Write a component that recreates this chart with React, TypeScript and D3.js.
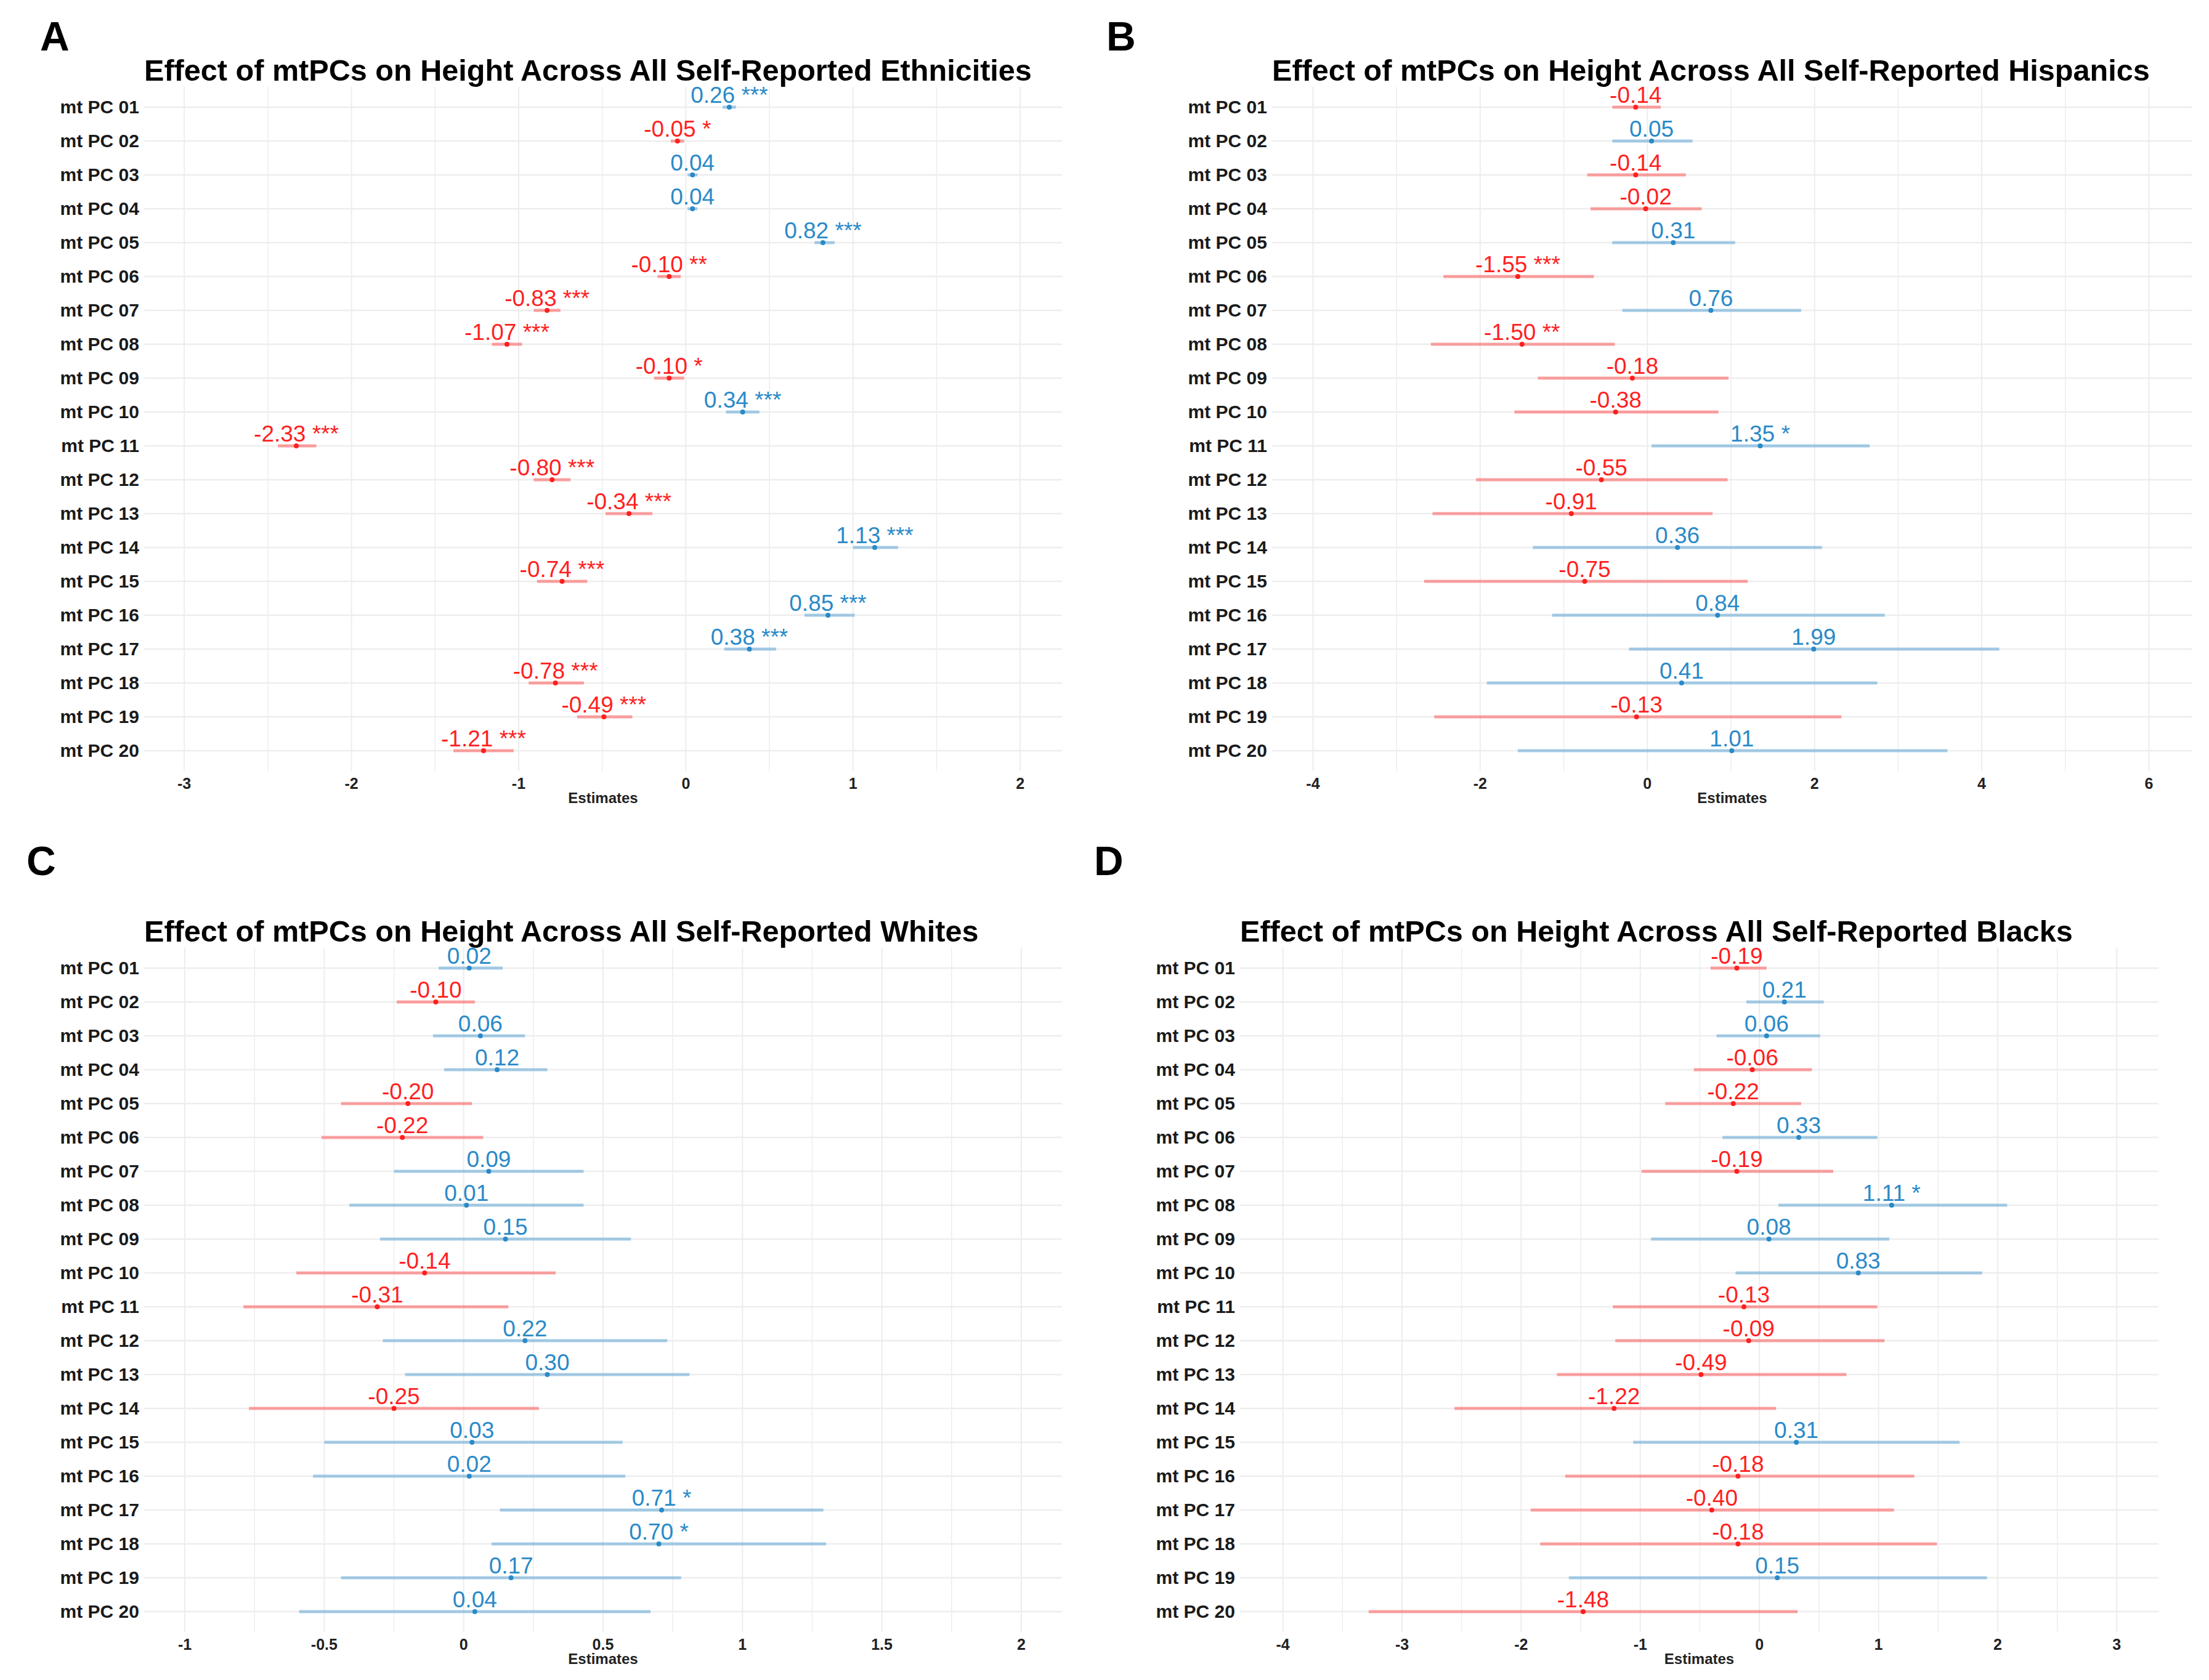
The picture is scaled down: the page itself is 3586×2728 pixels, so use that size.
import * as d3 from 'd3'

const W = 3586
const H = 2728

const pcLabels = [
  'mt PC 01', 'mt PC 02', 'mt PC 03', 'mt PC 04', 'mt PC 05',
  'mt PC 06', 'mt PC 07', 'mt PC 08', 'mt PC 09', 'mt PC 10',
  'mt PC 11', 'mt PC 12', 'mt PC 13', 'mt PC 14', 'mt PC 15',
  'mt PC 16', 'mt PC 17', 'mt PC 18', 'mt PC 19', 'mt PC 20',
]

// A: all ethnicities
const estA = [0.26, -0.05, 0.04, 0.04, 0.82, -0.10, -0.83, -1.07, -0.10, 0.34, -2.33, -0.80, -0.34, 1.13, -0.74, 0.85, 0.38, -0.78, -0.49, -1.21]
const loA = [0.22, -0.09, 0.01, 0.01, 0.77, -0.17, -0.91, -1.16, -0.19, 0.24, -2.44, -0.91, -0.48, 1.00, -0.89, 0.71, 0.23, -0.94, -0.65, -1.39]
const hiA = [0.30, -0.01, 0.07, 0.07, 0.89, -0.03, -0.75, -0.98, -0.01, 0.44, -2.21, -0.69, -0.20, 1.27, -0.59, 1.01, 0.54, -0.61, -0.32, -1.03]
const starsA = ['***', '*', '', '', '***', '**', '***', '***', '*', '***', '***', '***', '***', '***', '***', '***', '***', '***', '***', '***']
const ticksA = [-3, -2, -1, 0, 1, 2]

// B: hispanics
const estB = [-0.14, 0.05, -0.14, -0.02, 0.31, -1.55, 0.76, -1.50, -0.18, -0.38, 1.35, -0.55, -0.91, 0.36, -0.75, 0.84, 1.99, 0.41, -0.13, 1.01]
const loB = [-0.42, -0.42, -0.72, -0.68, -0.42, -2.44, -0.30, -2.59, -1.31, -1.59, 0.05, -2.05, -2.57, -1.37, -2.67, -1.14, -0.22, -1.92, -2.55, -1.55]
const hiB = [0.16, 0.54, 0.46, 0.65, 1.05, -0.64, 1.84, -0.39, 0.97, 0.85, 2.66, 0.96, 0.78, 2.09, 1.20, 2.84, 4.21, 2.75, 2.32, 3.59]
const starsB = ['', '', '', '', '', '***', '', '**', '', '', '*', '', '', '', '', '', '', '', '', '']
const ticksB = [-4, -2, 0, 2, 4, 6]

// C: whites
const estC = [0.02, -0.10, 0.06, 0.12, -0.20, -0.22, 0.09, 0.01, 0.15, -0.14, -0.31, 0.22, 0.30, -0.25, 0.03, 0.02, 0.71, 0.70, 0.17, 0.04]
const loC = [-0.09, -0.24, -0.11, -0.07, -0.44, -0.51, -0.25, -0.41, -0.30, -0.60, -0.79, -0.29, -0.21, -0.77, -0.50, -0.54, 0.13, 0.10, -0.44, -0.59]
const hiC = [0.14, 0.04, 0.22, 0.30, 0.03, 0.07, 0.43, 0.43, 0.60, 0.33, 0.16, 0.73, 0.81, 0.27, 0.57, 0.58, 1.29, 1.30, 0.78, 0.67]
const starsC = ['', '', '', '', '', '', '', '', '', '', '', '', '', '', '', '', '*', '*', '', '']
const ticksC = [-1, -0.5, 0, 0.5, 1, 1.5, 2]

// D: blacks
const estD = [-0.19, 0.21, 0.06, -0.06, -0.22, 0.33, -0.19, 1.11, 0.08, 0.83, -0.13, -0.09, -0.49, -1.22, 0.31, -0.18, -0.40, -0.18, 0.15, -1.48]
const loD = [-0.41, -0.11, -0.36, -0.55, -0.79, -0.31, -0.99, 0.16, -0.91, -0.20, -1.23, -1.21, -1.70, -2.56, -1.06, -1.63, -1.92, -1.84, -1.60, -3.28]
const hiD = [0.06, 0.54, 0.51, 0.44, 0.35, 0.99, 0.62, 2.08, 1.09, 1.87, 0.99, 1.05, 0.73, 0.14, 1.68, 1.30, 1.13, 1.49, 1.91, 0.32]
const starsD = ['', '', '', '', '', '', '', '*', '', '', '', '', '', '', '', '', '', '', '', '']
const ticksD = [-4, -3, -2, -1, 0, 1, 2, 3]

const RED = '#ff1f1f'
const BLUE = '#2a8ac8'
const GRID = '#ededed'
const FONT = '"Liberation Sans", Arial, sans-serif'

interface PanelDef {
  letter: string
  letterX: number
  title: string
  est: number[]
  lo: number[]
  hi: number[]
  stars: string[]
  ticks: number[]
  domain: [number, number]
  left: number
  right: number
  top: number
  titleY: number
  letterY: number
}

const ROW_STEP = 55

const panels: PanelDef[] = [
  {
    letter: 'A', letterX: 65, letterY: 82,
    title: 'Effect of mtPCs on Height Across All Self-Reported Ethnicities',
    est: estA, lo: loA, hi: hiA, stars: starsA, ticks: ticksA,
    domain: [-3.24, 2.25], left: 234, right: 1724, top: 174, titleY: 131,
  },
  {
    letter: 'B', letterX: 1796, letterY: 82,
    title: 'Effect of mtPCs on Height Across All Self-Reported Hispanics',
    est: estB, lo: loB, hi: hiB, stars: starsB, ticks: ticksB,
    domain: [-4.49, 6.52], left: 2065, right: 3559, top: 174, titleY: 131,
  },
  {
    letter: 'C', letterX: 43, letterY: 1421,
    title: 'Effect of mtPCs on Height Across All Self-Reported Whites',
    est: estC, lo: loC, hi: hiC, stars: starsC, ticks: ticksC,
    domain: [-1.146, 2.146], left: 234, right: 1724, top: 1572, titleY: 1529,
  },
  {
    letter: 'D', letterX: 1776, letterY: 1421,
    title: 'Effect of mtPCs on Height Across All Self-Reported Blacks',
    est: estD, lo: loD, hi: hiD, stars: starsD, ticks: ticksD,
    domain: [-4.36, 3.35], left: 2013, right: 3504, top: 1572, titleY: 1529,
  },
]

function Panel({ p }: { p: PanelDef }) {
  const x = d3.scaleLinear(p.domain, [p.left, p.right])
  const last = p.top + ROW_STEP * (pcLabels.length - 1)
  const y = d3.scalePoint<string>(pcLabels, [p.top, last])
  const plotTop = p.top - ROW_STEP * 0.6
  const plotBottom = last + ROW_STEP * 0.6
  const step = p.ticks[1] - p.ticks[0]
  const minor = p.ticks.slice(0, -1).map((t) => t + step / 2)
  minor.unshift(p.ticks[0] - step / 2)
  minor.push(p.ticks[p.ticks.length - 1] + step / 2)
  const minorIn = minor.filter((t) => t >= p.domain[0] && t <= p.domain[1])

  return (
    <g>
      <text x={p.letterX} y={p.letterY} fontFamily={FONT} fontWeight="bold" fontSize={66} fill="#000">
        {p.letter}
      </text>
      <text x={p.left} y={p.titleY} fontFamily={FONT} fontWeight="bold" fontSize={48.6} fill="#000">
        {p.title}
      </text>
      {minorIn.map((t) => (
        <line key={'m' + t} x1={x(t)} x2={x(t)} y1={plotTop} y2={plotBottom} stroke={GRID} strokeWidth={1.5} />
      ))}
      {p.ticks.map((t) => (
        <line key={'g' + t} x1={x(t)} x2={x(t)} y1={plotTop} y2={plotBottom} stroke={GRID} strokeWidth={2} />
      ))}
      {pcLabels.map((l) => (
        <line key={'h' + l} x1={p.left} x2={p.right} y1={y(l)} y2={y(l)} stroke={GRID} strokeWidth={2.5} />
      ))}
      {pcLabels.map((l) => (
        <text key={'l' + l} x={p.left - 8} y={y(l)! + 10} textAnchor="end" fontFamily={FONT}
          fontWeight="bold" fontSize={30} fill="#1a1a1a">
          {l}
        </text>
      ))}
      {p.ticks.map((t) => (
        <text key={'t' + t} x={x(t)} y={last + 62} textAnchor="middle" fontFamily={FONT}
          fontWeight="bold" fontSize={25} fill="#222">
          {String(t)}
        </text>
      ))}
      <text x={(p.left + p.right) / 2} y={last + 85} textAnchor="middle" fontFamily={FONT}
        fontWeight="bold" fontSize={24} fill="#222">
        Estimates
      </text>
      {pcLabels.map((l, i) => {
        const c = p.est[i] < 0 ? RED : BLUE
        const yy = y(l)!
        const label = p.est[i].toFixed(2) + (p.stars[i] ? ' ' + p.stars[i] : '')
        return (
          <g key={'d' + l}>
            <line x1={x(p.lo[i])} x2={x(p.hi[i])} y1={yy} y2={yy} stroke={c} strokeWidth={5} strokeOpacity={0.4} />
            <circle cx={x(p.est[i])} cy={yy} r={4} fill={c} />
            <text x={x(p.est[i])} y={yy - 7} textAnchor="middle" fontFamily={FONT} fontSize={37} fill={c}>
              {label}
            </text>
          </g>
        )
      })}
    </g>
  )
}

export default function App() {
  return (
    <svg width={W} height={H} viewBox={`0 0 ${W} ${H}`}
      style={{ position: 'absolute', left: 0, top: 0, background: '#fff' }}>
      <rect width={W} height={H} fill="#fff" />
      {panels.map((p) => (
        <Panel key={p.letter} p={p} />
      ))}
    </svg>
  )
}
